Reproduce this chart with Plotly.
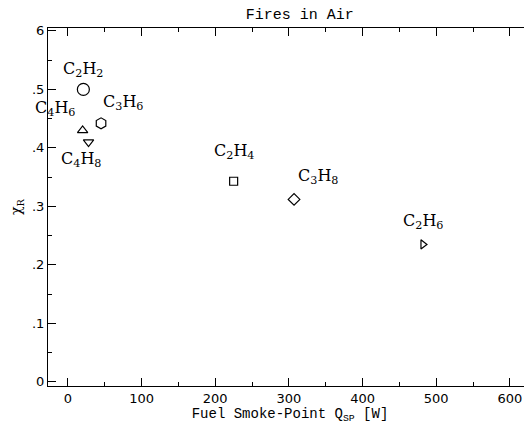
import plotly.graph_objects as go

# Fires in air: radiative fraction vs fuel smoke-point heat release
fuels = ["C<sub>2</sub>H<sub>2</sub>", "C<sub>3</sub>H<sub>6</sub>", "C<sub>4</sub>H<sub>6</sub>",
         "C<sub>4</sub>H<sub>8</sub>", "C<sub>2</sub>H<sub>4</sub>", "C<sub>3</sub>H<sub>8</sub>",
         "C<sub>2</sub>H<sub>6</sub>"]
qsp = [21, 45, 20, 28, 225, 307, 482]
chi_r = [0.500, 0.442, 0.430, 0.410, 0.343, 0.312, 0.235]
symbols = ["circle-open", "hexagon-open", "triangle-up-open", "triangle-down-open",
           "square-open", "diamond-open", "triangle-right-open"]
sizes = [12, 11, 9, 9, 8, 9, 8]
# label offsets in pixels (dx, dy) relative to each point
offsets = [(0, 20), (22, 21), (-28, 22), (-8, -17), (0, 30), (24, 23), (0, 23)]

y_ticks = [0, 0.1, 0.2, 0.3, 0.4, 0.5, 0.6]
y_labels = ["0", ".1", ".2", ".3", ".4", ".5", "6"]

fig = go.Figure()
for name, x, y, sym, sz in zip(fuels, qsp, chi_r, symbols, sizes):
    fig.add_trace(go.Scatter(
        x=[x], y=[y], mode="markers", name=name, showlegend=False,
        marker=dict(symbol=sym, size=sz, color="black", line=dict(color="black", width=1.2)),
    ))

for name, x, y, (dx, dy) in zip(fuels, qsp, chi_r, offsets):
    fig.add_annotation(x=x, y=y, text=name, showarrow=False, xshift=dx, yshift=dy,
                       font=dict(family="DejaVu Serif", size=16, color="black"))

axis_common = dict(
    showgrid=False, zeroline=False, showline=True, linecolor="black", linewidth=1.2,
    mirror="ticks", ticks="inside", ticklen=8, tickcolor="black",
    tickfont=dict(family="DejaVu Sans", size=13, color="black"),
)

# page body adds an 8px offset, so the figure is a bit smaller than the window
fig.update_layout(
    width=524, height=418,
    paper_bgcolor="white", plot_bgcolor="white",
    margin=dict(l=40, r=0, t=20, b=40),
    title=dict(text="Fires in Air", x=0.557, xanchor="center", y=1.0, yanchor="top",
               pad=dict(t=0),
               font=dict(family="Liberation Mono", size=15, color="black")),
    xaxis=dict(axis_common, range=[-27, 630], tickvals=[0, 100, 200, 300, 400, 500, 600],
               minor=dict(ticks="inside", ticklen=4, tickcolor="black", dtick=50, tick0=0),
               title=dict(text="Fuel Smoke-Point Q<sub>SP</sub> [W]", standoff=2,
                          font=dict(family="Liberation Mono", size=14, color="black"))),
    yaxis=dict(axis_common, range=[-0.007, 0.605], tickvals=y_ticks, ticktext=y_labels,
               minor=dict(ticks="inside", ticklen=4, tickcolor="black", dtick=0.05, tick0=0),
               title=dict(text="χ<sub>R</sub>", standoff=10,
                          font=dict(family="DejaVu Serif", size=14, color="black"))),
)

fig.write_html("out.html")
